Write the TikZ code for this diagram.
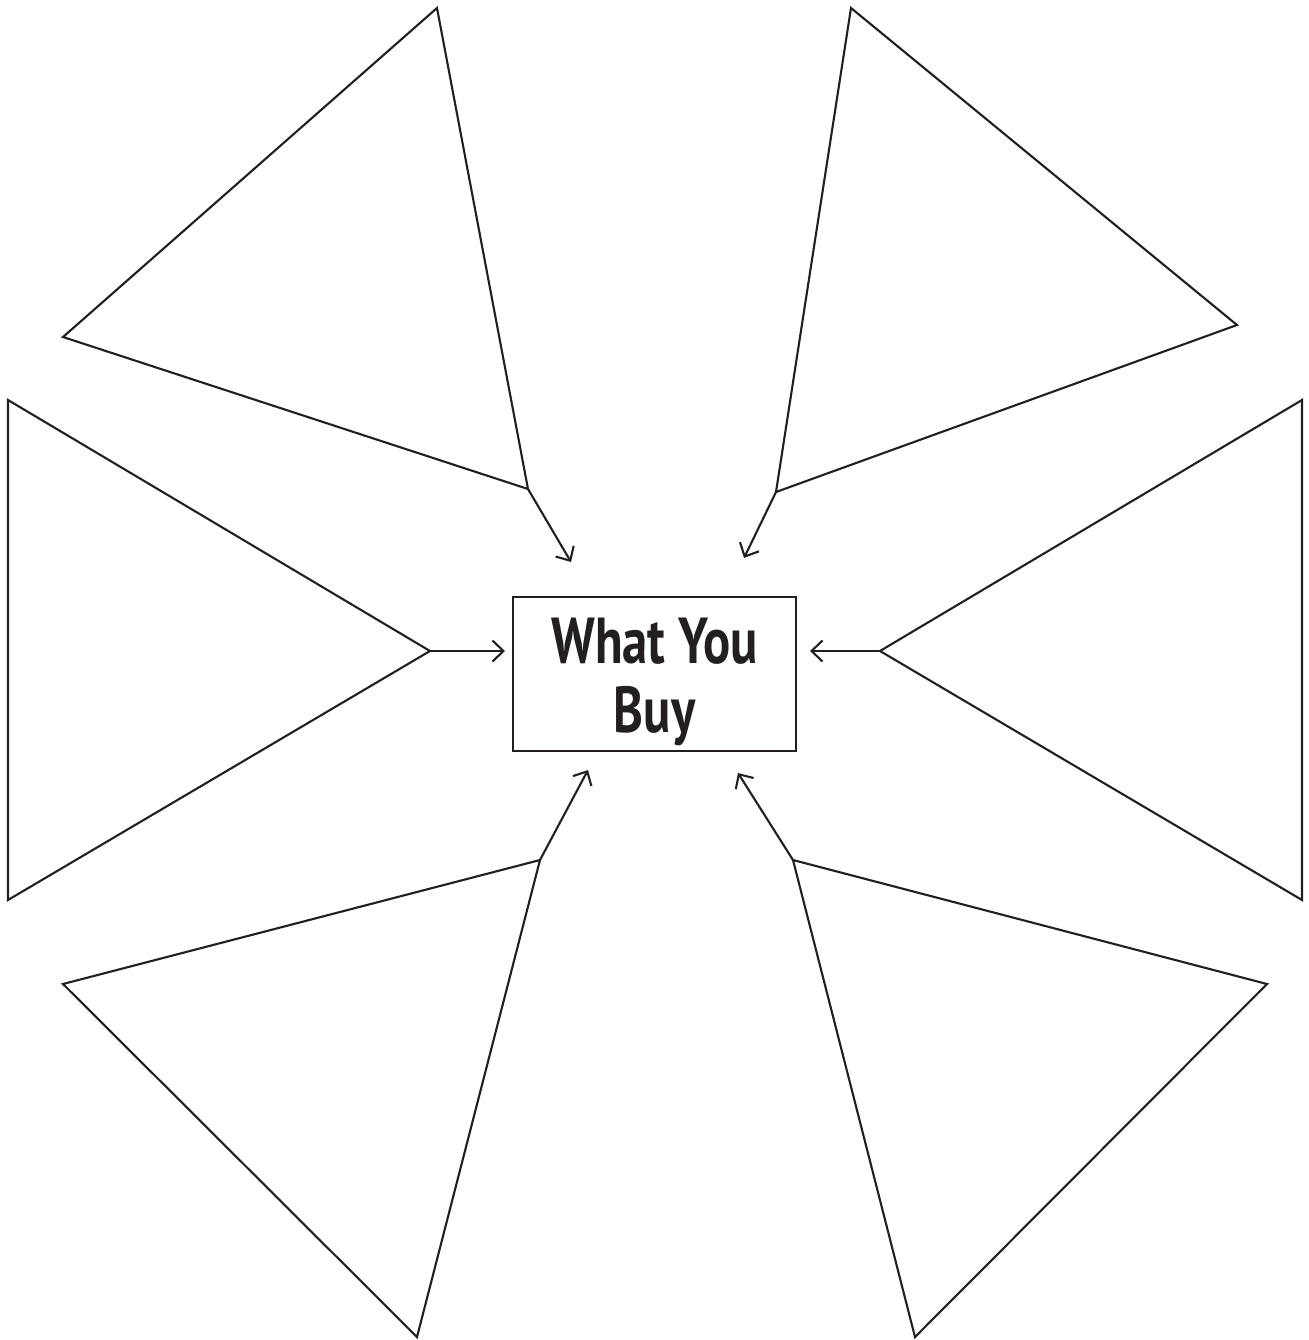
\documentclass[tikz,border=0pt]{standalone}
\usepackage{fontspec}
\newfontfamily\buyfont[FakeStretch=0.78]{PT Sans}
\usetikzlibrary{arrows.meta}
\definecolor{ink}{HTML}{231F20}

\begin{document}
\begin{tikzpicture}[
  x=0.02cm, y=-0.02cm,
  wing/.style={draw=ink, line width=1.2pt, line join=miter},
  target/.style={draw=ink, line width=1.2pt, minimum width=5.66cm, minimum height=3.08cm},
  buytext/.style={align=center, text=ink, inner sep=0pt,
                  font=\buyfont\bfseries\fontsize{37}{39}\selectfont},
  arr/.style={draw=ink, -{Straight Barb[length=2.2mm, width=4.2mm]}, line width=1.2pt}
]
\useasboundingbox (0,0) rectangle (1309,1340);
\node[target] (buy) at (654.5,674) {};
\node[buytext] (buylabel) at ([yshift=-0.16cm]buy.center) {What You\\Buy};
% tips of the six wings
\coordinate (tl) at (528,489);
\coordinate (tr) at (776,492);
\coordinate (ml) at (430,651);
\coordinate (mr) at (880,651);
\coordinate (bl) at (540,860);
\coordinate (br) at (793,860);
% arrow heads near the box
\coordinate (tlh) at (571,562);
\coordinate (trh) at (744,558);
\coordinate (mlh) at (505,651);
\coordinate (mrh) at (810,651);
\coordinate (blh) at (588,770);
\coordinate (brh) at (738,773);
\draw[wing] (tl) -- (437,8) -- (63,337) -- cycle;
\draw[wing] (tr) -- (851,8) -- (1237,325) -- cycle;
\draw[wing] (ml) -- (8,400) -- (8,900) -- cycle;
\draw[wing] (mr) -- (1302,400) -- (1302,900) -- cycle;
\draw[wing] (bl) -- (63,984) -- (417,1337) -- cycle;
\draw[wing] (br) -- (1267,984) -- (915,1337) -- cycle;
\draw[arr] (tl) -- (tlh);
\draw[arr] (tr) -- (trh);
\draw[arr] (ml) -- (mlh);
\draw[arr] (mr) -- (mrh);
\draw[arr] (bl) -- (blh);
\draw[arr] (br) -- (brh);
\end{tikzpicture}
\end{document}
